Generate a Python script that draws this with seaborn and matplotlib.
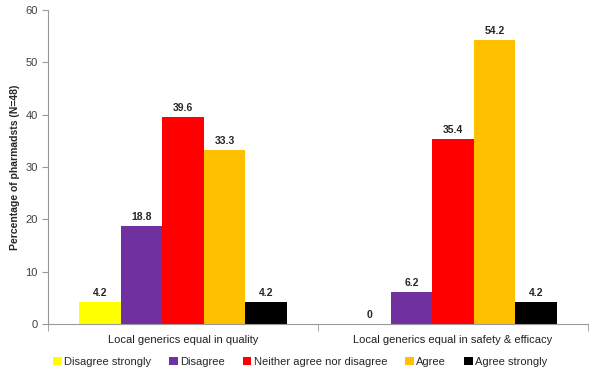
import pandas as pd
import seaborn as sns
import matplotlib.pyplot as plt
from matplotlib.ticker import FixedLocator

sns.set_style("white")
plt.rcParams['font.family'] = ['Liberation Sans', 'DejaVu Sans']

categories = ['Local generics equal in quality', 'Local generics equal in safety & efficacy']
responses = ['Disagree strongly', 'Disagree', 'Neither agree nor disagree', 'Agree', 'Agree strongly']
quality = [4.2, 18.8, 39.6, 33.3, 4.2]
safety = [0, 6.2, 35.4, 54.2, 4.2]
colors = ['#FFFF00', '#7030A0', '#FF0000', '#FFC000', '#000000']

rows = []
for cat, vals in zip(categories, [quality, safety]):
    for resp, v in zip(responses, vals):
        rows.append({'category': cat, 'response': resp, 'value': v})
df = pd.DataFrame(rows)

fig = plt.figure(figsize=(6, 3.77), dpi=100)
ax = fig.add_axes([0.08, 0.14, 0.9, 0.834])

sns.barplot(data=df, x='category', y='value', hue='response', hue_order=responses,
            palette=colors, width=0.77, saturation=1, linewidth=0, ax=ax, legend=True)

for cont in ax.containers:
    ax.bar_label(cont, labels=[f"{b.get_height():g}" for b in cont], padding=3,
                 fontsize=7.5, fontweight='bold')

ax.set_ylim(0, 60)
ax.set_xlim(-0.5, 1.5)
ax.set_yticks(range(0, 61, 10))
ax.set_xlabel('')
ax.set_ylabel('Percentage of pharmadsts (N=48)', fontsize=7.5, fontweight='bold')
ax.tick_params(axis='y', labelsize=8, colors='#404040', length=4, direction='out', left=True, color='#999999')
ax.tick_params(axis='x', labelsize=8, length=0, pad=8, colors='#202020')
ax.xaxis.set_minor_locator(FixedLocator([-0.5, 0.5, 1.5]))
ax.tick_params(axis='x', which='minor', length=5, color='#999999', bottom=True)
for s in ['top', 'right']:
    ax.spines[s].set_visible(False)
for s in ['left', 'bottom']:
    ax.spines[s].set_color('#999999')
    ax.spines[s].set_linewidth(0.8)

handles, labels = ax.get_legend_handles_labels()
ax.legend_.remove()
fig.legend(handles, labels, loc='center', bbox_to_anchor=(0.5, 0.04), ncol=5, frameon=False,
           fontsize=8, handlelength=0.8, handleheight=0.8, handletextpad=0.2, columnspacing=1.6)

fig.savefig('out.png', dpi=100)
